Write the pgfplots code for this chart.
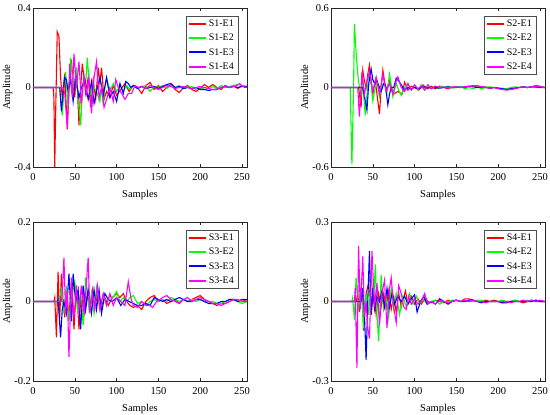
\documentclass[border=0pt]{standalone}
\usepackage{pgfplots}
\pgfplotsset{compat=1.18}
\usepackage{fontspec}
\setmainfont{Liberation Serif}
\definecolor{cR}{RGB}{255,0,0}
\definecolor{cG}{RGB}{0,255,0}
\definecolor{cB}{RGB}{0,0,255}
\definecolor{cM}{RGB}{255,0,255}
\pgfplotsset{
  sR/.style={color=cR, draw=cR},
  sG/.style={color=cG, draw=cG},
  sB/.style={color=cB, draw=cB},
  sM/.style={color=cM, draw=cM},
  myax/.style={
    scale only axis, width=214pt, height=159pt,
    xmin=0, xmax=256, xtick={0,50,...,250},
    tick align=inside, major tick length=3pt,
    tick style={black!85, line width=0.4pt},
    axis line style={black!85, line width=0.5pt},
    xlabel={Samples}, ylabel={Amplitude},
    ticklabel style={font=\fontsize{10.5}{12}\selectfont},
    xticklabel style={yshift=-3pt},
    yticklabel style={xshift=1.5pt},
    label style={font=\fontsize{10.5}{12}\selectfont},
    xlabel style={yshift=-2.5pt},
    ylabel style={yshift=-5pt},
    /pgf/number format/assume math mode=true,
    every axis plot/.append style={line width=1.1pt},
    legend image post style={line width=2pt},
    legend cell align=left,
    legend style={at={(1,1)}, anchor=north east, xshift=-9pt, yshift=-8pt,
      draw=black!70, font=\fontsize{10}{12}\selectfont,
      inner sep=2pt, row sep=2pt},
  }
}
\begin{document}
\begin{tikzpicture}[x=1pt,y=1pt]
\useasboundingbox (0,0) rectangle (550,415);
% ---------------- S1 ----------------
\begin{axis}[myax, at={(33pt,407pt)}, anchor=north west,
  ymin=-0.4, ymax=0.4, ytick={-0.4,0,0.4}]
\addplot[sR] coordinates {(0,0)(24,0)(25,-0.05)(26,-0.40)(27,-0.15)(29,0.28)(31,0.26)(33,0.05)(35,-0.05)(38,0.07)(41,-0.21)(43,-0.02)(46,0.14)(48,0.02)(50,-0.05)(52,0.10)(55,-0.19)(57,0.0)(59,0.12)(61,0.05)(63,-0.03)(66,0.05)(69,-0.10)(72,0.04)(75,-0.06)(78,0.10)(80,0.02)(82,0.10)(85,-0.06)(88,-0.02)(92,-0.05)(96,0.01)(100,-0.04)(105,-0.01)(110,0.02)(115,-0.02)(120,0.01)(125,0.0)(130,-0.03)(135,0.01)(140,0.025)(145,-0.01)(150,0.01)(155,-0.02)(160,0.0)(165,0.015)(170,-0.01)(175,-0.025)(180,0.0)(185,0.01)(190,-0.01)(195,-0.02)(200,-0.005)(205,0.015)(210,0.0)(215,0.015)(220,0.0)(225,-0.01)(230,0.01)(235,0.0)(240,0.01)(245,-0.005)(250,0.01)(256,0.0)};
\addplot[sG] coordinates {(0,0)(32,0)(35,-0.14)(37,-0.02)(39,0.08)(42,-0.10)(45,0.15)(47,0.05)(49,0.0)(52,0.10)(54,-0.05)(57,-0.19)(59,-0.03)(61,0.05)(63,0.02)(65,0.15)(67,0.03)(69,-0.05)(71,0.02)(73,0.0)(76,-0.02)(80,-0.07)(82,0.0)(84,-0.09)(86,0.0)(88,0.05)(92,-0.02)(96,0.02)(100,-0.02)(104,0.01)(108,-0.02)(112,0.01)(116,-0.01)(120,0.01)(125,-0.005)(130,0.005)(135,0.01)(140,-0.02)(145,0.005)(150,0.0)(155,0.01)(160,-0.005)(165,0.01)(170,0.0)(175,0.01)(180,-0.005)(185,0.0)(190,0.005)(195,-0.01)(200,0.0)(205,-0.01)(210,-0.005)(215,0.005)(220,-0.005)(225,0.01)(230,0.0)(235,0.005)(240,0.01)(245,0.015)(250,0.01)(256,0.005)};
\addplot[sB] coordinates {(0,0)(32,0)(34,-0.12)(36,-0.03)(38,0.05)(40,0.04)(42,-0.02)(45,0.04)(48,-0.07)(51,0.06)(53,0.0)(55,-0.05)(58,0.0)(62,0.04)(66,-0.06)(70,0.03)(73,-0.08)(77,0.0)(80,0.05)(84,-0.04)(88,0.05)(92,-0.05)(96,-0.02)(100,-0.07)(104,0.02)(108,-0.03)(111,0.03)(114,0.02)(117,0.0)(120,0.01)(125,-0.005)(130,0.005)(135,-0.005)(140,0.0)(145,0.005)(150,-0.005)(155,0.005)(160,0.015)(165,0.02)(170,0.0)(175,0.005)(180,-0.005)(185,0.0)(190,-0.005)(195,0.0)(200,-0.01)(205,-0.01)(210,-0.015)(215,-0.01)(220,-0.01)(225,0.0)(230,0.005)(235,0.0)(240,0.005)(245,0.0)(250,0.005)(256,0.005)};
\addplot[sM] coordinates {(0,0)(36,0)(38,-0.03)(41,-0.20)(44,0.12)(47,-0.05)(49,0.17)(52,0.0)(55,0.13)(58,-0.08)(61,0.06)(64,-0.03)(67,0.05)(70,-0.13)(73,0.05)(76,0.13)(79,-0.05)(82,0.0)(85,-0.10)(88,-0.06)(92,0.0)(96,-0.07)(99,0.04)(102,0.0)(106,-0.03)(110,-0.06)(114,-0.03)(118,-0.03)(122,0.01)(126,0.0)(130,0.005)(135,-0.005)(140,0.01)(145,0.0)(150,-0.01)(155,0.0)(160,0.01)(165,0.005)(170,-0.005)(175,0.0)(180,0.005)(185,0.0)(190,-0.005)(195,0.0)(200,0.005)(205,0.0)(210,-0.005)(215,-0.01)(220,-0.01)(225,0.0)(230,0.005)(235,0.0)(240,0.005)(244,0.01)(247,0.02)(251,0.005)(256,0.0)};
\legend{S1-E1,S1-E2,S1-E3,S1-E4}
\end{axis}
% ---------------- S2 ----------------
\begin{axis}[myax, at={(331pt,407pt)}, anchor=north west,
  ymin=-0.6, ymax=0.6, ytick={-0.6,0,0.6}]
\addplot[sR] coordinates {(0,0)(33,0)(36,-0.15)(38,0.13)(40,0.05)(42,0.0)(44,0.10)(46,0.17)(48,0.05)(50,-0.05)(53,0.05)(55,-0.05)(58,-0.20)(60,0.0)(62,0.13)(64,0.05)(66,-0.02)(70,0.05)(75,-0.05)(80,-0.03)(85,-0.05)(88,0.04)(92,-0.02)(96,0.01)(100,0.0)(105,-0.02)(110,0.02)(115,-0.01)(120,0.01)(125,-0.01)(130,0.01)(135,0.0)(140,-0.01)(145,0.005)(150,0.0)(155,0.005)(160,0.0)(165,0.005)(170,0.015)(175,0.005)(180,0.0)(185,0.005)(190,-0.005)(195,0.0)(200,-0.005)(205,-0.01)(210,-0.015)(215,-0.01)(220,-0.005)(225,0.0)(230,0.005)(235,0.0)(240,0.005)(245,0.015)(250,0.01)(256,0.0)};
\addplot[sG] coordinates {(0,0)(23,0)(25,-0.58)(27,0.0)(28,0.48)(30,0.27)(32,0.10)(34,0.0)(36,-0.05)(38,0.02)(41,-0.21)(43,-0.05)(45,0.10)(48,0.02)(50,-0.10)(53,0.0)(55,0.05)(58,-0.07)(61,0.02)(64,0.03)(67,-0.04)(70,0.10)(72,0.02)(74,-0.07)(78,0.03)(81,-0.02)(84,-0.06)(88,0.0)(92,0.03)(96,-0.02)(100,0.02)(104,-0.02)(108,0.02)(112,-0.01)(116,0.02)(120,-0.01)(124,0.01)(128,-0.01)(132,0.01)(136,0.0)(140,0.01)(145,-0.005)(150,0.0)(155,0.01)(160,-0.01)(165,0.0)(170,-0.01)(175,0.005)(180,-0.01)(185,0.0)(190,0.005)(195,0.0)(200,-0.005)(205,-0.005)(210,-0.01)(215,0.0)(220,0.005)(225,0.0)(230,0.005)(235,0.0)(240,0.005)(245,0.0)(250,0.005)(256,0.0)};
\addplot[sB] coordinates {(0,0)(36,0)(38,0.0)(41,-0.10)(43,-0.17)(45,0.02)(48,0.14)(50,0.06)(52,0.03)(55,0.05)(58,0.0)(60,-0.03)(63,0.03)(65,0.02)(68,-0.13)(70,-0.05)(72,0.0)(75,0.0)(78,0.07)(81,0.05)(84,0.02)(88,-0.02)(92,0.0)(96,-0.01)(100,0.0)(105,-0.01)(110,0.005)(115,0.0)(120,-0.005)(125,0.0)(130,-0.005)(135,0.0)(140,0.005)(145,0.0)(150,0.005)(155,0.0)(160,0.005)(165,0.01)(170,0.005)(175,0.0)(180,0.005)(185,0.0)(190,-0.005)(195,0.0)(200,-0.005)(205,-0.01)(210,-0.015)(215,-0.01)(220,-0.005)(225,0.0)(230,0.005)(235,0.0)(240,0.005)(245,0.005)(250,0.0)(256,0.0)};
\addplot[sM] coordinates {(0,0)(32,0)(34,-0.22)(37,0.12)(40,-0.05)(43,0.05)(46,0.12)(48,0.05)(50,-0.03)(54,0.08)(58,-0.05)(62,0.10)(64,0.03)(66,-0.03)(70,0.03)(74,-0.05)(76,0.0)(78,0.05)(80,0.08)(84,0.0)(88,-0.03)(92,0.03)(96,-0.02)(100,0.02)(104,-0.01)(108,0.01)(112,-0.02)(116,0.02)(120,-0.01)(125,0.01)(130,0.0)(135,0.005)(140,-0.005)(145,0.0)(150,0.005)(155,0.0)(160,0.005)(165,0.01)(170,0.01)(175,0.015)(180,0.005)(185,0.0)(190,-0.005)(195,0.0)(200,-0.01)(205,-0.015)(210,-0.02)(215,-0.015)(220,-0.01)(225,0.0)(230,0.005)(235,0.0)(240,0.005)(245,0.01)(250,0.005)(256,0.0)};
\legend{S2-E1,S2-E2,S2-E3,S2-E4}
\end{axis}
% ---------------- S3 ----------------
\begin{axis}[myax, at={(33pt,193pt)}, anchor=north west,
  ymin=-0.2, ymax=0.2, ytick={-0.2,0,0.2}]
\addplot[sR] coordinates {(0,0)(25,0)(26,0.01)(28,-0.09)(30,0.075)(32,-0.04)(34,0.07)(36,0.0)(38,-0.04)(40,0.03)(43,-0.04)(46,0.05)(49,-0.07)(52,0.04)(55,-0.07)(58,0.04)(62,-0.03)(65,0.02)(68,-0.02)(71,0.03)(74,-0.01)(78,0.02)(82,-0.01)(86,0.01)(90,-0.01)(95,0.01)(100,0.02)(104,0.01)(108,0.02)(112,0.0)(116,-0.01)(120,-0.015)(125,-0.01)(130,-0.02)(135,0.0)(140,0.01)(145,0.015)(150,0.0)(155,0.005)(160,-0.005)(165,0.0)(170,0.005)(175,-0.005)(180,0.005)(185,0.0)(190,0.005)(195,0.01)(200,0.015)(205,0.005)(210,0.0)(215,-0.005)(220,-0.01)(225,-0.005)(230,-0.005)(235,0.0)(240,0.005)(245,0.0)(250,0.005)(256,0.0)};
\addplot[sG] coordinates {(0,0)(31,0)(34,0.03)(37,-0.03)(40,0.04)(43,-0.05)(46,0.01)(50,0.05)(53,-0.02)(57,0.02)(60,-0.06)(63,0.06)(67,-0.02)(70,0.02)(73,-0.03)(76,0.035)(80,-0.02)(84,0.02)(88,-0.01)(92,0.015)(96,0.01)(100,0.025)(104,0.0)(108,0.01)(112,0.0)(116,0.01)(120,0.015)(125,-0.005)(130,0.0)(135,-0.01)(140,0.0)(145,0.005)(150,0.0)(155,0.005)(160,0.0)(165,0.01)(170,0.005)(175,0.0)(180,0.005)(185,0.0)(190,0.005)(195,0.0)(200,0.005)(205,0.0)(210,0.0)(215,0.0)(220,-0.005)(225,-0.005)(230,0.0)(235,0.005)(240,0.005)(245,0.0)(250,-0.005)(256,0.0)};
\addplot[sB] coordinates {(0,0)(29,0)(30,0.005)(33,-0.09)(35,-0.02)(37,0.0)(40,-0.03)(43,0.07)(46,-0.05)(48,0.07)(51,0.0)(54,0.03)(57,-0.07)(60,0.04)(63,-0.02)(66,0.03)(70,-0.03)(73,0.03)(76,-0.02)(79,0.03)(82,-0.03)(86,0.02)(90,0.005)(95,0.0)(100,0.01)(105,-0.01)(110,0.005)(115,0.0)(120,-0.005)(125,-0.01)(130,-0.01)(135,-0.005)(140,-0.01)(145,0.01)(150,0.005)(155,0.0)(160,0.005)(165,0.0)(170,0.005)(175,0.01)(180,0.005)(185,0.0)(190,0.0)(195,0.005)(200,0.005)(205,0.0)(210,-0.005)(215,-0.005)(220,-0.005)(225,0.0)(230,0.0)(235,0.005)(240,0.005)(245,0.0)(250,0.005)(256,0.005)};
\addplot[sM] coordinates {(0,0)(34,0)(35,0.02)(37,0.11)(39,-0.03)(41,0.03)(43,-0.14)(46,0.06)(49,-0.04)(52,0.03)(55,-0.02)(58,0.04)(61,-0.03)(63,0.02)(66,0.11)(68,-0.03)(71,0.02)(74,-0.02)(77,0.04)(80,-0.02)(84,0.02)(88,-0.01)(92,0.02)(96,-0.01)(100,0.01)(105,0.0)(110,-0.01)(114,0.05)(117,0.01)(120,-0.01)(125,-0.015)(130,0.0)(135,-0.01)(140,-0.01)(143,-0.015)(148,0.0)(155,0.01)(160,0.015)(165,0.005)(170,0.0)(175,-0.005)(180,0.005)(185,0.01)(190,0.0)(195,0.005)(200,0.01)(205,0.005)(210,0.0)(215,-0.005)(220,-0.005)(225,-0.01)(230,-0.005)(235,0.0)(240,0.005)(245,0.005)(250,0.0)(256,0.0)};
\legend{S3-E1,S3-E2,S3-E3,S3-E4}
\end{axis}
% ---------------- S4 ----------------
\begin{axis}[myax, at={(331pt,193pt)}, anchor=north west,
  ymin=-0.3, ymax=0.3, ytick={-0.3,0,0.3}]
\addplot[sR] coordinates {(0,0)(30,0)(32,0.03)(34,-0.04)(37,0.05)(39,-0.11)(42,0.03)(45,0.07)(48,-0.05)(51,0.04)(54,-0.05)(57,0.03)(60,-0.02)(63,0.03)(66,-0.02)(69,0.04)(72,-0.03)(75,0.02)(78,-0.04)(81,0.03)(84,-0.02)(89,0.04)(92,-0.01)(96,0.02)(100,-0.01)(104,0.01)(108,-0.01)(112,0.01)(116,0.0)(120,-0.005)(125,0.005)(130,0.0)(135,-0.005)(140,0.005)(145,0.0)(150,0.005)(155,0.0)(160,0.01)(165,0.01)(170,0.005)(175,0.0)(180,0.0)(185,0.005)(190,0.0)(195,0.005)(200,0.0)(205,-0.005)(210,0.0)(215,0.0)(220,0.005)(225,0.0)(230,-0.005)(235,0.0)(240,0.005)(245,0.0)(250,0.0)(256,0.0)};
\addplot[sG] coordinates {(0,0)(25,0)(26,0.015)(28,-0.07)(30,0.09)(33,-0.03)(36,0.06)(39,-0.10)(42,0.03)(45,-0.05)(48,0.10)(51,0.0)(53,0.14)(55,-0.05)(57,-0.15)(60,0.10)(63,-0.03)(66,0.02)(69,-0.06)(72,0.05)(75,-0.03)(78,0.03)(82,-0.05)(86,0.02)(90,-0.02)(94,0.03)(98,-0.01)(102,0.02)(106,-0.01)(110,0.01)(115,-0.01)(120,0.0)(125,0.005)(130,-0.01)(135,0.0)(140,0.0)(145,0.005)(150,0.005)(155,0.0)(160,0.005)(165,0.0)(170,0.0)(175,0.005)(180,0.005)(185,0.0)(190,0.0)(195,0.0)(200,0.0)(205,0.005)(210,0.0)(215,0.0)(220,0.005)(225,0.0)(230,0.0)(235,0.005)(240,0.0)(245,0.005)(250,0.0)(256,0.0)};
\addplot[sB] coordinates {(0,0)(34,0)(36,0.0)(38,0.05)(40,-0.05)(42,-0.22)(44,0.0)(46,0.19)(48,-0.05)(50,0.05)(52,-0.03)(55,0.02)(58,0.0)(61,0.04)(64,-0.02)(67,0.05)(70,-0.02)(73,0.03)(76,-0.01)(80,0.02)(84,0.0)(88,0.02)(92,-0.01)(96,0.01)(100,0.025)(103,-0.04)(107,0.0)(111,0.02)(115,-0.01)(120,0.0)(125,-0.01)(130,0.01)(135,0.0)(140,-0.01)(145,0.0)(150,0.005)(155,0.0)(160,0.0)(165,0.005)(170,0.005)(175,0.0)(180,-0.005)(185,0.0)(190,0.0)(195,0.0)(200,0.0)(205,-0.005)(210,-0.005)(215,0.0)(220,0.0)(225,0.0)(230,0.0)(235,0.0)(240,0.0)(245,0.005)(250,0.0)(256,0.0)};
\addplot[sM] coordinates {(0,0)(27,0)(28,0.0)(29,0.05)(31,-0.25)(33,0.21)(35,-0.03)(37,0.10)(38,0.17)(40,-0.06)(42,0.0)(44,-0.10)(46,-0.14)(49,0.19)(52,-0.02)(55,0.07)(58,-0.09)(61,0.03)(64,0.08)(67,-0.10)(70,0.05)(72,0.09)(75,-0.02)(78,-0.08)(81,0.06)(84,0.03)(87,-0.02)(90,-0.03)(93,0.02)(96,-0.01)(100,0.01)(104,-0.01)(108,0.0)(112,0.03)(116,-0.01)(120,0.0)(125,-0.01)(130,0.005)(135,0.0)(140,-0.005)(145,0.0)(150,0.005)(155,0.0)(160,0.005)(165,0.0)(170,0.005)(175,0.0)(180,0.0)(185,-0.005)(190,0.0)(195,0.0)(200,0.0)(205,0.0)(210,0.0)(215,-0.005)(220,0.0)(225,0.0)(230,0.005)(235,0.0)(240,0.005)(245,0.0)(250,0.005)(256,0.0)};
\legend{S4-E1,S4-E2,S4-E3,S4-E4}
\end{axis}
\end{tikzpicture}
\end{document}
